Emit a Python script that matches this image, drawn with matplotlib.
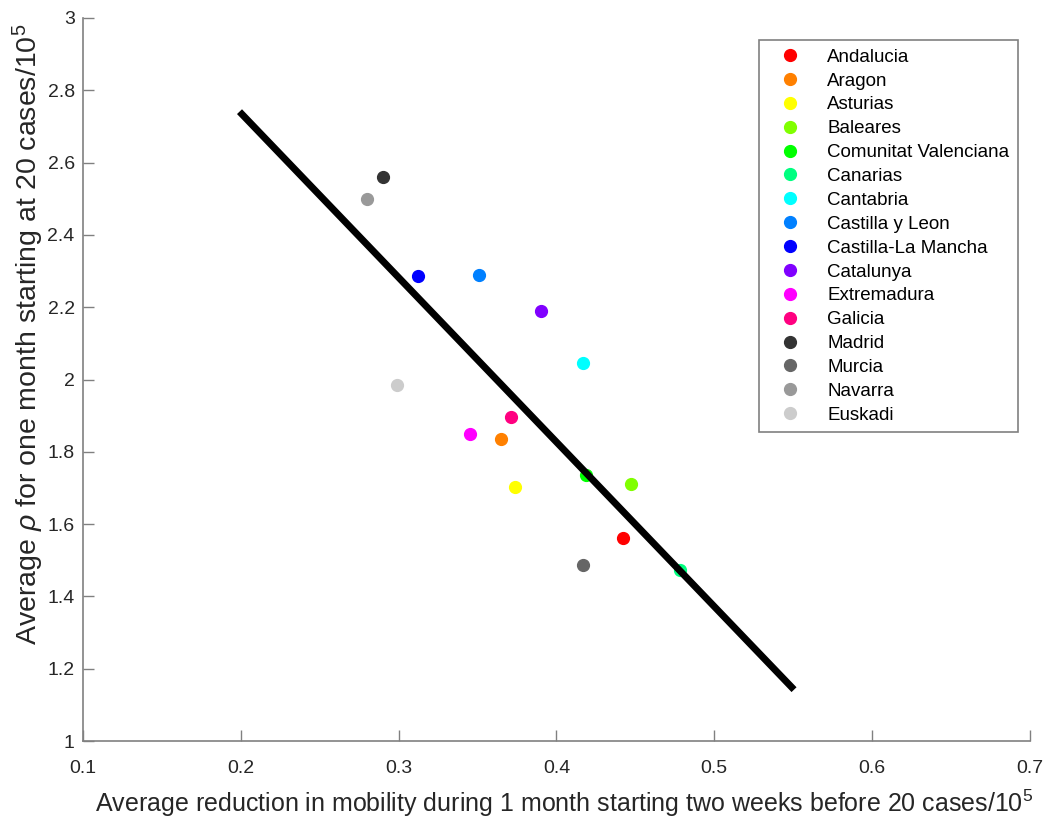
import matplotlib
matplotlib.use("Agg")
import matplotlib.pyplot as plt
import numpy as np

matplotlib.rcParams['font.family'] = ['Liberation Sans', 'DejaVu Sans']
matplotlib.rcParams['mathtext.fontset'] = 'custom'
matplotlib.rcParams['mathtext.rm'] = 'Liberation Sans'
matplotlib.rcParams['mathtext.it'] = 'Liberation Sans:italic'

regions = ["Andalucia", "Aragon", "Asturias", "Baleares", "Comunitat Valenciana",
           "Canarias", "Cantabria", "Castilla y Leon", "Castilla-La Mancha",
           "Catalunya", "Extremadura", "Galicia", "Madrid", "Murcia", "Navarra",
           "Euskadi"]
mobility = [0.442, 0.365, 0.374, 0.447, 0.419, 0.478, 0.417, 0.351, 0.312,
            0.390, 0.345, 0.371, 0.290, 0.417, 0.280, 0.299]
rho = [1.562, 1.836, 1.703, 1.711, 1.736, 1.473, 2.046, 2.289, 2.287,
       2.190, 1.849, 1.896, 2.560, 1.487, 2.499, 1.985]
colors = [(1, 0, 0), (1, 0.5, 0), (1, 1, 0), (0.5, 1, 0), (0, 1, 0),
          (0, 1, 0.5), (0, 1, 1), (0, 0.5, 1), (0, 0, 1), (0.5, 0, 1),
          (1, 0, 1), (1, 0, 0.5), (0.2, 0.2, 0.2), (0.4, 0.4, 0.4),
          (0.6, 0.6, 0.6), (0.8, 0.8, 0.8)]

# regression line end points
fit_x = [0.2007, 0.549]
fit_y = [2.734, 1.149]

fig = plt.figure(figsize=(10.45, 8.18), dpi=100)
ax = fig.add_axes([0.0794, 0.0941, 0.9062, 0.8839])

for name, xv, yv, c in zip(regions, mobility, rho, colors):
    ax.plot(xv, yv, 'o', color=c, markersize=8.5, label=name, zorder=2)

ax.plot(fit_x, fit_y, '-', color='black', linewidth=5, zorder=3)

ax.set_xlim(0.1, 0.7)
ax.set_ylim(1, 3)
ax.set_xticks(np.arange(0.1, 0.71, 0.1))
ax.set_yticks(np.arange(1, 3.01, 0.2))
ax.set_xticklabels(["0.1", "0.2", "0.3", "0.4", "0.5", "0.6", "0.7"])
ax.set_yticklabels(["1", "1.2", "1.4", "1.6", "1.8", "2", "2.2", "2.4", "2.6", "2.8", "3"])

for s in ['top', 'right']:
    ax.spines[s].set_visible(False)
for s in ['left', 'bottom']:
    ax.spines[s].set_color('#808080')
    ax.spines[s].set_linewidth(1.2)
ax.tick_params(direction='in', length=8, width=1, color='#808080',
               labelsize=14, labelcolor='#262626')
ax.tick_params(axis='x', pad=14)
ax.tick_params(axis='y', pad=6)

ax.set_xlabel(r"Average reduction in mobility during 1 month starting two weeks before 20 cases/10$^5$",
              fontsize=18, color='#262626')
ax.set_ylabel(r"Average $\rho$ for one month starting at 20 cases/10$^5$",
              fontsize=20.5, color='#262626')
ax.xaxis.set_label_coords(0.508, -0.064)
ax.yaxis.set_label_coords(-0.039, 0.563)

leg = ax.legend(loc='upper right', bbox_to_anchor=(0.974, 0.951),
                bbox_transform=fig.transFigure, fontsize=13.5, frameon=True,
                fancybox=False, framealpha=1, edgecolor='#808080',
                handletextpad=0.8, labelspacing=0.36, borderpad=0.45,
                handlelength=2.4, numpoints=1, borderaxespad=0)
leg.get_frame().set_linewidth(1.2)

fig.savefig("out.png", dpi=100)
